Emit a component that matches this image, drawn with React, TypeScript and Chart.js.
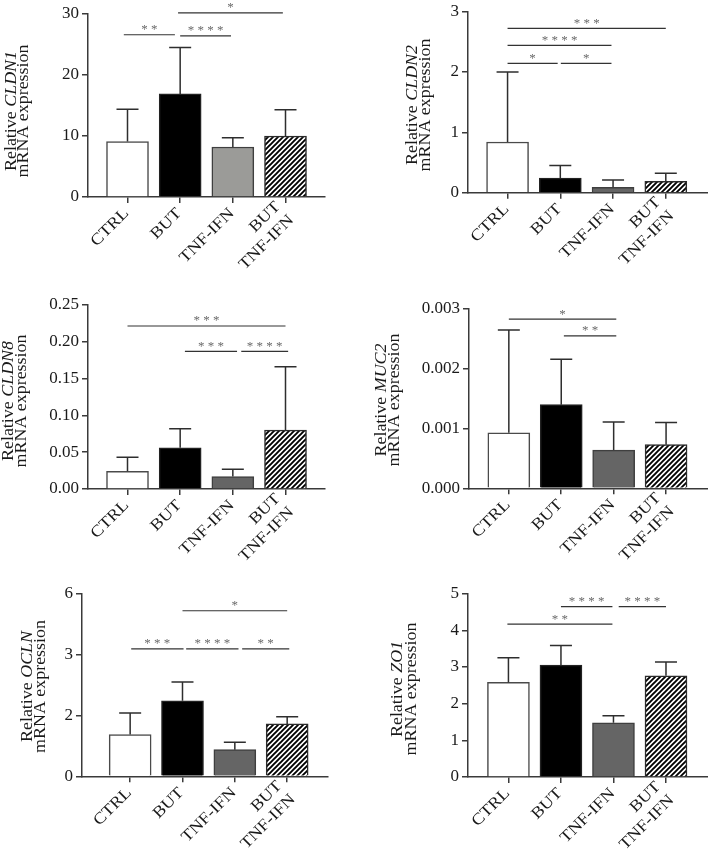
import React, { useEffect, useRef } from 'react';
import { Chart, registerables } from 'chart.js';

Chart.register(...registerables);

type Sig = [number, number, number, string];

// ---------- data ----------
const categories: string[][] = [['CTRL'], ['BUT'], ['TNF-IFN'], ['BUT', 'TNF-IFN']];

const cldn1Mean = [9.1, 16.9, 8.2, 10.0];
const cldn1Upper = [14.4, 24.5, 9.7, 14.3];
const cldn1Ticks = [0, 10, 20, 30];
const cldn1TickLabels = ['0', '10', '20', '30'];
const cldn1Sig: Sig[] = [
  [-0.07, 0.9, 26.6, '* *'],
  [1.0, 1.965, 26.4, '* * * *'],
  [0.96, 2.95, 30.2, '*'],
];

const cldn2Mean = [0.84, 0.24, 0.09, 0.19];
const cldn2Upper = [2.0, 0.45, 0.21, 0.32];
const cldn2Ticks = [0, 1, 2, 3];
const cldn2TickLabels = ['0', '1', '2', '3'];
const cldn2Sig: Sig[] = [
  [0, 3.0, 2.72, '* * *'],
  [0, 1.97, 2.44, '* * * *'],
  [0, 0.95, 2.14, '*'],
  [1.01, 1.97, 2.14, '*'],
];

const cldn8Mean = [0.024, 0.056, 0.017, 0.08];
const cldn8Upper = [0.043, 0.082, 0.027, 0.166];
const cldn8Ticks = [0, 0.05, 0.1, 0.15, 0.2, 0.25];
const cldn8TickLabels = ['0.00', '0.05', '0.10', '0.15', '0.20', '0.25'];
const cldn8Sig: Sig[] = [
  [0, 3.0, 0.2215, '* * *'],
  [1.09, 2.08, 0.187, '* * *'],
  [2.16, 3.05, 0.187, '* * * *'],
];

const muc2Mean = [0.00093, 0.0014, 0.00064, 0.00073];
const muc2Upper = [0.00265, 0.00216, 0.00111, 0.0011];
const muc2Ticks = [0, 0.001, 0.002, 0.003];
const muc2TickLabels = ['0.000', '0.001', '0.002', '0.003'];
const muc2Sig: Sig[] = [
  [0, 2.05, 0.00283, '*'],
  [1.05, 2.05, 0.00255, '* *'],
];

const oclnMean = [1.37, 2.48, 0.875, 1.72];
const oclnUpper = [2.08, 3.1, 1.12, 1.96];
const oclnTicks = [0, 2, 4, 6];
const oclnTickLabels = ['0', '2', '3', '6'];
const oclnSig: Sig[] = [
  [1.0, 3.0, 5.44, '*'],
  [0.02, 1.02, 4.19, '* * *'],
  [1.07, 2.07, 4.19, '* * * *'],
  [2.14, 3.04, 4.19, '* *'],
];

const zo1Mean = [2.58, 3.05, 1.48, 2.76];
const zo1Upper = [3.25, 3.59, 1.67, 3.14];
const zo1Ticks = [0, 1, 2, 3, 4, 5];
const zo1TickLabels = ['0', '1', '2', '3', '4', '5'];
const zo1Sig: Sig[] = [
  [1.0, 1.98, 4.65, '* * * *'],
  [2.1, 3.0, 4.65, '* * * *'],
  [-0.02, 1.98, 4.17, '* *'],
];

// ---------- layout / style ----------
const FONT = '"Liberation Serif", "Times New Roman", serif';
const AXIS = '#3a3a3a';
const TEXT = '#1a1a1a';

interface Spec {
  gene: string;
  mean: number[];
  upper: number[];
  ticks: number[];
  tickLabels: string[];
  sig: Sig[];
  tnfColor: string;
  box: { x: number; y: number; w: number; h: number };
  area: { left: number; top: number; bottom: number; right: number };
  xRange: [number, number];
  title: { c1: number; c2: number; cy: number };
}

const PANELS: Spec[] = [
  {
    gene: 'CLDN1', mean: cldn1Mean, upper: cldn1Upper, ticks: cldn1Ticks, tickLabels: cldn1TickLabels, sig: cldn1Sig,
    tnfColor: '#9b9b98',
    box: { x: 0, y: 0, w: 354, h: 290 },
    area: { left: 88, top: 14, bottom: 197, right: 325 },
    xRange: [-0.75, 3.75],
    title: { c1: 12, c2: 24, cy: 111 },
  },
  {
    gene: 'CLDN2', mean: cldn2Mean, upper: cldn2Upper, ticks: cldn2Ticks, tickLabels: cldn2TickLabels, sig: cldn2Sig,
    tnfColor: '#656565',
    box: { x: 354, y: 0, w: 354, h: 290 },
    area: { left: 114, top: 9.5, bottom: 192.7, right: 354 },
    xRange: [-0.75, 3.8],
    title: { c1: 59, c2: 72, cy: 105 },
  },
  {
    gene: 'CLDN8', mean: cldn8Mean, upper: cldn8Upper, ticks: cldn8Ticks, tickLabels: cldn8TickLabels, sig: cldn8Sig,
    tnfColor: '#656565',
    box: { x: 0, y: 290, w: 354, h: 283 },
    area: { left: 88, top: 15, bottom: 199, right: 325 },
    xRange: [-0.75, 3.75],
    title: { c1: 8.5, c2: 21.5, cy: 111 },
  },
  {
    gene: 'MUC2', mean: muc2Mean, upper: muc2Upper, ticks: muc2Ticks, tickLabels: muc2TickLabels, sig: muc2Sig,
    tnfColor: '#656565',
    box: { x: 354, y: 290, w: 354, h: 283 },
    area: { left: 115, top: 19, bottom: 198.3, right: 354 },
    xRange: [-0.76, 3.8],
    title: { c1: 27.5, c2: 40.5, cy: 110 },
  },
  {
    gene: 'OCLN', mean: oclnMean, upper: oclnUpper, ticks: oclnTicks, tickLabels: oclnTickLabels, sig: oclnSig,
    tnfColor: '#656565',
    box: { x: 0, y: 573, w: 354, h: 290 },
    area: { left: 82, top: 20.7, bottom: 203.3, right: 328 },
    xRange: [-0.92, 3.78],
    title: { c1: 27.5, c2: 40.5, cy: 113.5 },
  },
  {
    gene: 'ZO1', mean: zo1Mean, upper: zo1Upper, ticks: zo1Ticks, tickLabels: zo1TickLabels, sig: zo1Sig,
    tnfColor: '#656565',
    box: { x: 354, y: 573, w: 354, h: 290 },
    area: { left: 114, top: 20.7, bottom: 204, right: 354 },
    xRange: [-0.77, 3.8],
    title: { c1: 44, c2: 58, cy: 116 },
  },
];

function makeHatch(): CanvasPattern | string {
  const s = 5;
  const c = document.createElement('canvas');
  c.width = s;
  c.height = s;
  const g = c.getContext('2d');
  if (!g) return '#888';
  g.fillStyle = '#ffffff';
  g.fillRect(0, 0, s, s);
  g.strokeStyle = '#000000';
  g.lineWidth = 1.9;
  g.beginPath();
  g.moveTo(-1, s + 1);
  g.lineTo(s + 1, -1);
  g.moveTo(-2, 2);
  g.lineTo(2, -2);
  g.moveTo(s - 2, s + 2);
  g.lineTo(s + 2, s - 2);
  g.stroke();
  return g.createPattern(c, 'repeat') || '#888';
}

const LABEL_SIZE = 16;
const LABEL_STRETCH = 1.14;
const TITLE_SIZE = 16;
const TITLE_STRETCH = 1.12;

function extrasPlugin(spec: Spec) {
  return {
    id: 'extras',
    afterDraw(chart: any) {
      const ctx: CanvasRenderingContext2D = chart.ctx;
      const xs = chart.scales.x;
      const ys = chart.scales.y;
      const bottom = chart.chartArea.bottom;
      ctx.save();

      // error bars (upper only, capped)
      ctx.strokeStyle = '#2e2e2e';
      ctx.lineWidth = 1.5;
      spec.mean.forEach((m, i) => {
        const px = xs.getPixelForValue(i);
        const y0 = ys.getPixelForValue(m);
        const y1 = ys.getPixelForValue(spec.upper[i]);
        ctx.beginPath();
        ctx.moveTo(px, y0);
        ctx.lineTo(px, y1);
        ctx.moveTo(px - 11, y1);
        ctx.lineTo(px + 11, y1);
        ctx.stroke();
      });

      // significance brackets
      spec.sig.forEach(([a, b, v, label]) => {
        const x1 = xs.getPixelForValue(a);
        const x2 = xs.getPixelForValue(b);
        const py = ys.getPixelForValue(v);
        ctx.strokeStyle = '#333333';
        ctx.lineWidth = 1.2;
        ctx.beginPath();
        ctx.moveTo(x1, py);
        ctx.lineTo(x2, py);
        ctx.stroke();
        ctx.fillStyle = '#6a6a6a';
        ctx.font = `13px ${FONT}`;
        ctx.textAlign = 'center';
        ctx.textBaseline = 'alphabetic';
        ctx.fillText(label, (x1 + x2) / 2, py - 1.5);
      });

      // x category labels, rotated 45 degrees
      ctx.fillStyle = TEXT;
      ctx.font = `${LABEL_SIZE}px ${FONT}`;
      const lh = 19;
      categories.forEach((lines, i) => {
        const px = xs.getPixelForValue(i);
        ctx.save();
        ctx.translate(px - 1, bottom + 14);
        ctx.rotate(-Math.PI / 4);
        ctx.scale(LABEL_STRETCH, 1);
        ctx.textAlign = 'right';
        ctx.textBaseline = 'middle';
        const n = lines.length;
        lines.forEach((t, k) => {
          ctx.fillText(t, 0, (k - (n - 1) / 2) * lh);
        });
        ctx.restore();
      });

      // y axis title with italic gene name
      const normal = `${TITLE_SIZE}px ${FONT}`;
      const italic = `italic ${TITLE_SIZE}px ${FONT}`;
      const pre = 'Relative ';
      ctx.font = normal;
      const w1 = ctx.measureText(pre).width;
      ctx.font = italic;
      const w2 = ctx.measureText(spec.gene).width;
      ctx.save();
      ctx.translate(spec.title.c1, spec.title.cy);
      ctx.rotate(-Math.PI / 2);
      ctx.scale(TITLE_STRETCH, 1);
      ctx.textAlign = 'left';
      ctx.textBaseline = 'middle';
      const start = -(w1 + w2) / 2;
      ctx.font = normal;
      ctx.fillText(pre, start, 0);
      ctx.font = italic;
      ctx.fillText(spec.gene, start + w1, 0);
      ctx.restore();
      ctx.save();
      ctx.translate(spec.title.c2, spec.title.cy);
      ctx.rotate(-Math.PI / 2);
      ctx.scale(TITLE_STRETCH, 1);
      ctx.textAlign = 'center';
      ctx.textBaseline = 'middle';
      ctx.font = normal;
      ctx.fillText('mRNA expression', 0, 0);
      ctx.restore();

      ctx.restore();
    },
  };
}

function Panel({ spec }: { spec: Spec }) {
  const ref = useRef<HTMLCanvasElement>(null);
  useEffect(() => {
    const canvas = ref.current;
    if (!canvas) return;
    const hatch = makeHatch();
    const fills = ['#ffffff', '#000000', spec.tnfColor, hatch];
    const borders = ['#4a4a4a', '#222222', '#3f3f3f', '#2a2a2a'];
    const axisGrid = {
      display: true,
      offset: false,
      drawOnChartArea: false,
      drawTicks: true,
      tickLength: 6,
      color: AXIS,
      lineWidth: 1.5,
    };
    const chart = new Chart(canvas, {
      type: 'bar',
      data: {
        datasets: [
          {
            data: spec.mean.map((v, i) => ({ x: i, y: v })),
            backgroundColor: fills as any,
            borderColor: borders,
            borderWidth: 1.5,
            barThickness: 42,
          } as any,
        ],
      },
      options: {
        responsive: false,
        animation: false,
        devicePixelRatio: 1,
        events: [],
        layout: {
          autoPadding: false,
          padding: { left: 0, top: spec.area.top, right: spec.box.w - spec.area.right, bottom: 0 },
        },
        plugins: { legend: { display: false }, tooltip: { enabled: false } },
        scales: {
          x: {
            type: 'linear',
            min: spec.xRange[0],
            max: spec.xRange[1],
            offset: false,
            z: 1,
            grid: axisGrid as any,
            border: { display: true, color: AXIS, width: 1.5 },
            ticks: { display: false },
            afterBuildTicks: (s: any) => {
              s.ticks = spec.mean.map((_, i) => ({ value: i }));
            },
            afterFit: (s: any) => {
              s.height = spec.box.h - spec.area.bottom;
            },
          } as any,
          y: {
            type: 'linear',
            min: 0,
            max: spec.ticks[spec.ticks.length - 1],
            z: 1,
            grid: axisGrid as any,
            border: { display: true, color: AXIS, width: 1.5 },
            ticks: {
              color: TEXT,
              padding: 3,
              font: { family: FONT, size: 17, lineHeight: 1 },
              callback: (_v: any, i: number) => spec.tickLabels[i],
            },
            afterBuildTicks: (s: any) => {
              s.ticks = spec.ticks.map((v) => ({ value: v }));
            },
            afterFit: (s: any) => {
              s.width = spec.area.left;
            },
          } as any,
        },
      },
      plugins: [extrasPlugin(spec) as any],
    });
    return () => chart.destroy();
  }, [spec]);
  return (
    <canvas
      ref={ref}
      width={spec.box.w}
      height={spec.box.h}
      style={{ position: 'absolute', left: spec.box.x, top: spec.box.y, width: spec.box.w, height: spec.box.h }}
    />
  );
}

export default function App() {
  return (
    <div style={{ position: 'absolute', left: 0, top: 0, width: 708, height: 863, background: '#ffffff', overflow: 'hidden' }}>
      {PANELS.map((p) => (
        <Panel key={p.gene} spec={p} />
      ))}
    </div>
  );
}
